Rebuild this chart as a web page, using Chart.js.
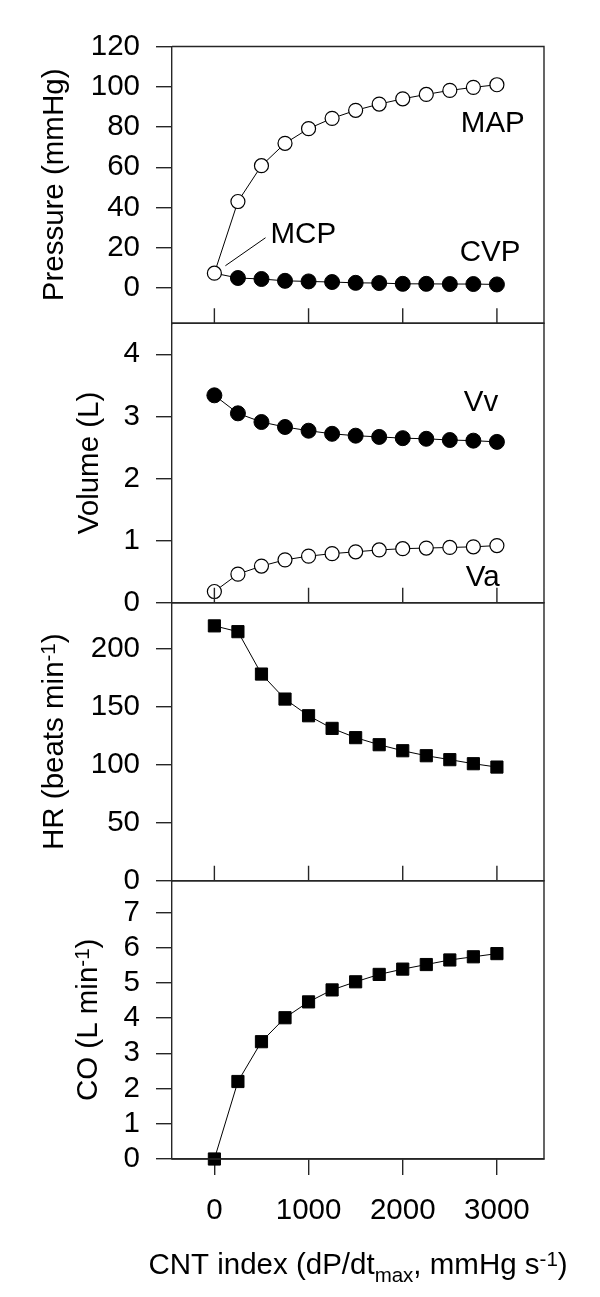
<!DOCTYPE html>
<html>
<head>
<meta charset="utf-8">
<script src="https://cdn.jsdelivr.net/npm/chart.js@4.4.1/dist/chart.umd.min.js"></script>
<style>
html,body{margin:0;padding:0;background:#fff;}
#wrap{position:relative;width:600px;height:1297px;background:#fff;}
#wrap canvas{position:absolute;left:0;top:0;}
</style>
</head>
<body>
<div id="wrap">
<canvas id="c1" width="600" height="1297"></canvas>
<canvas id="c2" width="600" height="1297"></canvas>
<canvas id="c3" width="600" height="1297"></canvas>
<canvas id="c4" width="600" height="1297"></canvas>
</div>
<script>
// ---------- data ----------
const cntIndex   = [0, 250, 500, 750, 1000, 1250, 1500, 1750, 2000, 2250, 2500, 2750, 3000];
const mcpValue   = 7.4;
const mapValues  = [mcpValue, 43.0, 60.8, 71.9, 79.2, 84.3, 88.3, 91.4, 94.0, 96.2, 98.2, 99.7, 101.0];
const cvpValues  = [mcpValue, 5.0, 4.5, 3.6, 3.3, 3.0, 2.6, 2.5, 2.1, 2.1, 2.0, 2.0, 1.8];
const vvValues   = [3.34, 3.05, 2.91, 2.83, 2.77, 2.72, 2.69, 2.67, 2.65, 2.64, 2.62, 2.61, 2.59];
const vaValues   = [0.18, 0.46, 0.59, 0.69, 0.75, 0.79, 0.82, 0.85, 0.87, 0.88, 0.89, 0.90, 0.92];
const hrValues   = [220, 215, 178.4, 156.8, 142.4, 131.5, 123.5, 117.4, 112.2, 107.9, 104.5, 101.0, 98.1];
const coValues   = [0.0, 2.20, 3.33, 4.01, 4.46, 4.80, 5.03, 5.24, 5.39, 5.52, 5.65, 5.74, 5.83];

const xTickValues    = [0, 1000, 2000, 3000];
const pressureTicks  = [0, 20, 40, 60, 80, 100, 120];
const volumeTicks    = [0, 1, 2, 3, 4];
const hrTicks        = [0, 50, 100, 150, 200];
const coTicks        = [0, 1, 2, 3, 4, 5, 6, 7];

const yTitles = ['Pressure (mmHg)', 'Volume (L)', 'HR (beats min^{-1})', 'CO (L min^{-1})'];
const xTitle  = 'CNT index (dP/dt_{max}, mmHg s^{-1})';
const seriesNames = ['MAP', 'CVP', 'MCP', 'Vv', 'Va', 'HR', 'CO'];

// ---------- style / layout ----------
const FONT = '"Liberation Sans", Arial, Helvetica, sans-serif';
const FS = 29.5, FS_SMALL = 20.5;
const AX = '#262626';
const AXW = 1.4;
const PAGE_H = 1297;
const PLOT_LEFT = 172, PLOT_RIGHT = 544;
const panels = [
  {top: 46.5,  bottom: 323.3},
  {top: 323.3, bottom: 602.7},
  {top: 602.7, bottom: 880.7},
  {top: 880.7, bottom: 1159}
];
Chart.defaults.font.family = FONT;
Chart.defaults.font.size = FS;
Chart.defaults.color = '#000';

function pts(xs, ys){ return xs.map((x, i) => ({x: x, y: ys[i]})); }

function parseRich(s){
  const out = []; const re = /([_^])\{([^}]*)\}/g; let last = 0, m;
  while ((m = re.exec(s))) {
    if (m.index > last) out.push({t: s.slice(last, m.index), k: 'n'});
    out.push({t: m[2], k: m[1] === '^' ? 'sup' : 'sub'});
    last = re.lastIndex;
  }
  if (last < s.length) out.push({t: s.slice(last), k: 'n'});
  return out;
}
function drawRich(ctx, s, tx, ty, rotate){
  const segs = parseRich(s);
  ctx.save();
  ctx.translate(tx, ty);
  if (rotate) ctx.rotate(-Math.PI / 2);
  ctx.textBaseline = 'alphabetic'; ctx.textAlign = 'left'; ctx.fillStyle = '#000';
  let w = 0;
  segs.forEach(g => { ctx.font = (g.k === 'n' ? FS : FS_SMALL) + 'px ' + FONT; g.w = ctx.measureText(g.t).width; w += g.w; });
  let x = -w / 2;
  segs.forEach(g => {
    ctx.font = (g.k === 'n' ? FS : FS_SMALL) + 'px ' + FONT;
    const dy = g.k === 'sup' ? -8 : (g.k === 'sub' ? 8 : 0);
    ctx.fillText(g.t, x, dy);
    x += g.w;
  });
  ctx.restore();
}

const framePlugin = {
  id: 'frame',
  afterDraw(chart, args, opts){
    const {ctx, chartArea: a, scales} = chart;
    ctx.save();
    ctx.strokeStyle = AX; ctx.lineWidth = AXW;
    ctx.beginPath();
    ctx.moveTo(a.left, a.top); ctx.lineTo(a.right, a.top);
    ctx.lineTo(a.right, a.bottom); ctx.lineTo(a.left, a.bottom);
    if (opts.innerTicks) {
      xTickValues.forEach(v => {
        const px = scales.x.getPixelForValue(v);
        ctx.moveTo(px, a.bottom); ctx.lineTo(px, a.bottom - 15);
      });
    }
    ctx.stroke();
    if (opts.yTitle) drawRich(ctx, opts.yTitle, opts.yTitleX, (a.top + a.bottom) / 2, true);
    if (opts.xTitle) drawRich(ctx, opts.xTitle, (a.left + a.right) / 2, opts.xTitleY, false);
    ctx.restore();
  },
  afterDatasetsDraw(chart, args, opts){
    const {ctx, scales} = chart;
    ctx.save();
    ctx.fillStyle = '#000'; ctx.strokeStyle = '#000'; ctx.lineWidth = 1;
    ctx.font = FS + 'px ' + FONT; ctx.textAlign = 'left'; ctx.textBaseline = 'alphabetic';
    (opts.notes || []).forEach(n => {
      ctx.fillText(n.text, scales.x.getPixelForValue(n.x), scales.y.getPixelForValue(n.y));
    });
    (opts.leaders || []).forEach(l => {
      ctx.beginPath();
      ctx.moveTo(scales.x.getPixelForValue(l[0]), scales.y.getPixelForValue(l[1]));
      ctx.lineTo(scales.x.getPixelForValue(l[2]), scales.y.getPixelForValue(l[3]));
      ctx.stroke();
    });
    ctx.restore();
  }
};

function openCircle(label, data){
  return {label, data, borderColor: '#000', borderWidth: 1, pointStyle: 'circle',
    pointRadius: 7, pointBackgroundColor: '#fff', pointBorderColor: '#000', pointBorderWidth: 1.2,
    tension: 0, clip: false};
}
function filledCircle(label, data, skipFirst){
  return {label, data, borderColor: '#000', borderWidth: 1, pointStyle: 'circle',
    pointRadius: c => (skipFirst && c.dataIndex === 0) ? 0 : 7.5,
    pointBackgroundColor: '#000', pointBorderColor: '#000', pointBorderWidth: 1,
    tension: 0, clip: false};
}
function filledSquare(label, data){
  return {label, data, borderColor: '#000', borderWidth: 1, pointStyle: 'rect',
    pointRadius: 8.6, pointBackgroundColor: '#000', pointBorderColor: '#000', pointBorderWidth: 1,
    tension: 0, clip: false};
}

function makeChart(id, idx, datasets, yMin, yMax, yTicks, frameOpts){
  const p = panels[idx];
  const isBottom = idx === panels.length - 1;
  return new Chart(document.getElementById(id), {
    type: 'line',
    data: {datasets},
    plugins: [framePlugin],
    options: {
      responsive: false, animation: false, events: [],
      layout: {padding: {top: p.top, left: 0, right: 600 - PLOT_RIGHT, bottom: isBottom ? 0 : PAGE_H - p.bottom}},
      plugins: {legend: {display: false}, tooltip: {enabled: false}, frame: frameOpts},
      scales: {
        x: {
          type: 'linear', min: -450, max: 3500, display: isBottom,
          afterBuildTicks: s => { s.ticks = xTickValues.map(v => ({value: v})); },
          afterFit: s => { if (isBottom) s.height = PAGE_H - p.bottom; },
          grid: {drawOnChartArea: false, drawTicks: true, tickLength: 16, color: AX, lineWidth: AXW},
          border: {display: true, color: AX, width: AXW},
          ticks: {padding: 18, color: '#000', font: {size: FS}, maxRotation: 0, autoSkip: false,
                  callback: v => String(v)}
        },
        y: {
          type: 'linear', min: yMin, max: yMax,
          afterBuildTicks: s => { s.ticks = yTicks.map(v => ({value: v})); },
          afterFit: s => { s.width = PLOT_LEFT; },
          grid: {drawOnChartArea: false, drawTicks: true, tickLength: 16, color: AX, lineWidth: AXW},
          border: {display: true, color: AX, width: AXW},
          ticks: {padding: 16, color: '#000', font: {size: FS}, autoSkip: false,
                  callback: v => String(v)}
        }
      }
    }
  });
}

makeChart('c1', 0,
  [openCircle(seriesNames[0], pts(cntIndex, mapValues)),
   filledCircle(seriesNames[1], pts(cntIndex, cvpValues), true)],
  -17.5, 120, pressureTicks,
  {innerTicks: true, yTitle: yTitles[0], yTitleX: 63,
   notes: [{text: seriesNames[0], x: 2617, y: 77.7},
           {text: seriesNames[1], x: 2606, y: 13.5},
           {text: seriesNames[2], x: 596, y: 22.5}],
   leaders: [[543, 25.0, 117, 11.1]]});

makeChart('c2', 1,
  [filledCircle(seriesNames[3], pts(cntIndex, vvValues), false),
   openCircle(seriesNames[4], pts(cntIndex, vaValues))],
  0, 4.5, volumeTicks,
  {innerTicks: true, yTitle: yTitles[1], yTitleX: 98,
   notes: [{text: seriesNames[3], x: 2649, y: 3.09},
           {text: seriesNames[4], x: 2670, y: 0.27}]});

makeChart('c3', 2,
  [filledSquare(seriesNames[5], pts(cntIndex, hrValues))],
  0, 240, hrTicks,
  {innerTicks: true, yTitle: yTitles[2], yTitleX: 63});

makeChart('c4', 3,
  [filledSquare(seriesNames[6], pts(cntIndex, coValues))],
  0, 7.9, coTicks,
  {innerTicks: false, yTitle: yTitles[3], yTitleX: 97, xTitle: xTitle, xTitleY: 1274});
</script>
</body>
</html>
